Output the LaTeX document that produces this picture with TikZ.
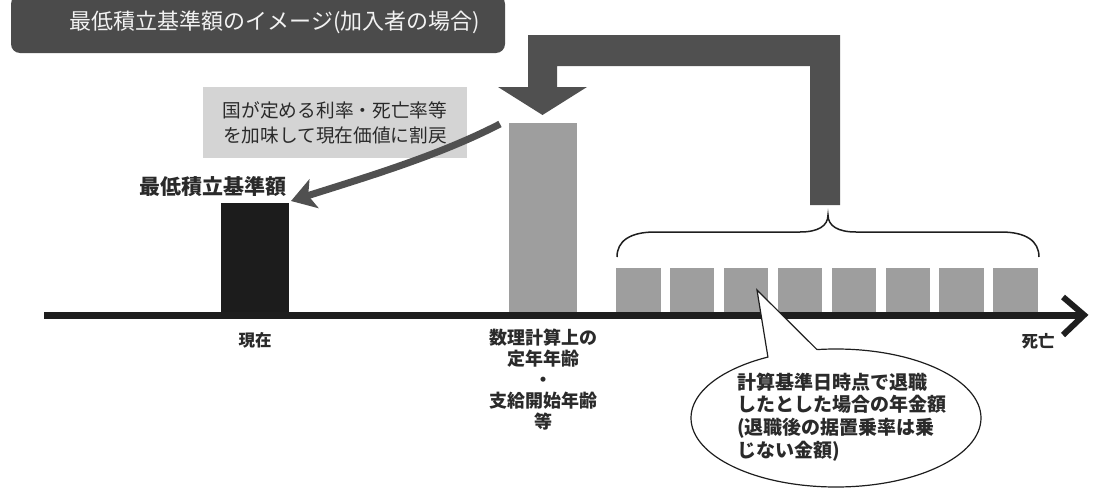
\documentclass[tikz,border=0pt]{standalone}
\usepackage{fontspec}
\setmainfont{Noto Sans CJK JP}
\usetikzlibrary{arrows.meta,shapes.geometric}
\definecolor{titlebg}{HTML}{4B4B4B}
\definecolor{titlefg}{HTML}{F2F2F2}
\definecolor{notebg}{HTML}{D4D4D4}
\definecolor{bargray}{HTML}{9E9E9E}
\definecolor{bigarrow}{HTML}{505050}
\definecolor{axiscol}{HTML}{1E1E1E}
\definecolor{nowcol}{HTML}{1C1C1C}
\definecolor{txtcol}{HTML}{2A2A2A}
\tikzset{
  barbox/.style={rectangle, fill=bargray, inner sep=0pt, outer sep=0pt, anchor=north west},
  axislbl/.style={font=\fontsize{16.5}{21}\selectfont\bfseries, text=txtcol, inner sep=0pt, align=center},
}
\begin{document}
\begin{tikzpicture}[x=1pt,y=-1pt]
\useasboundingbox (0,0) rectangle (1096,490);

% title
\node[rectangle, rounded corners=9pt, fill=titlebg, minimum width=494pt, minimum height=58pt, inner sep=0pt] (titlebox) at (258,24) {};
\node[text=titlefg, font=\fontsize{22}{26}\selectfont, inner sep=0pt] (titletext) at (275,22) {最低積立基準額のイメージ(加入者の場合)};

% big return arrow
\fill[bigarrow] (810,205) -- (840,205) -- (840,35) -- (528,35) -- (528,87) -- (498,87) -- (542.5,115) -- (587,87) -- (557,87) -- (557,66) -- (810,66) -- cycle;

% bars
\node[rectangle, fill=nowcol, inner sep=0pt, anchor=north west, minimum width=68pt, minimum height=112pt] (nowbar) at (221,203) {};
\node[barbox, minimum width=68pt, minimum height=192pt] (retbar) at (509,123) {};
\foreach \k in {0,...,7}{
  \node[barbox, minimum width=44.5pt, minimum height=47pt] (pb\k) at ({616+53.9*\k},268) {};
}

% axis
\coordinate (axL) at (44,315);
\coordinate (axR) at (1080,315);
\draw[axiscol, line width=7pt] (axL) -- (axR);
\coordinate (chevA) at (1063,297);
\coordinate (chevT) at (1084,315);
\coordinate (chevB) at (1063,335);
\draw[axiscol, line width=6pt, line join=miter] (chevA) -- (chevT) -- (chevB);

% brace
\draw[axiscol, line width=1.5pt] (617,257) .. controls (617,241) and (630,232) .. (655,232) -- (800,232)
  .. controls (818,232) and (828,226) .. (828,215)
  .. controls (828,226) and (838,232) .. (856,232) -- (1001,232)
  .. controls (1026,232) and (1039,241) .. (1039,257);

% note box
\node[rectangle, fill=notebg, minimum width=264pt, minimum height=71pt, inner sep=0pt, align=center, text=txtcol, font=\fontsize{18.7}{25}\selectfont] (note) at (335,122.5) {国が定める利率・死亡率等\\を加味して現在価値に割戻};

% minimum label
\node[font=\fontsize{21}{25}\selectfont\bfseries, text=txtcol, inner sep=0pt] (lblmin) at (213,187) {最低積立基準額};

% curved arrow
\coordinate (cstart) at (500,124);
\coordinate (cend) at (291,201);
\draw[bigarrow, line width=7pt, -{Stealth[length=24pt, width=30pt, inset=6pt]}] (cstart) .. controls (440,155) and (370,176) .. (cend);

% axis labels
\node[axislbl] (lblnow) at (255,340) {現在};
\node[axislbl, font=\fontsize{18}{21}\selectfont\bfseries] (lblret) at (543,380) {数理計算上の\\定年年齢\\・\\支給開始年齢\\等};
\node[axislbl] (lbldeath) at (1038,341) {死亡};

% bubble
\node[ellipse, draw=axiscol, line width=1.2pt, fill=white, minimum width=290pt, minimum height=138pt, inner sep=0pt, outer sep=0pt] (bubble) at (836,418) {};
\coordinate (tip) at (757,290);
\coordinate (pl) at (768,357.5);
\coordinate (pr) at (817,349.6);
\fill[white] (tip) -- (pl) -- (bubble.center) -- (pr) -- cycle;
\draw[axiscol, line width=1.2pt] (pl) -- (tip) -- (pr);
\node[anchor=west, align=left, inner sep=0pt, text=txtcol, font=\fontsize{19}{22.8}\selectfont\bfseries] (bubtext) at (737,417) {計算基準日時点で退職\\したとした場合の年金額\\(退職後の据置乗率は乗\\じない金額)};
\end{tikzpicture}
\end{document}
